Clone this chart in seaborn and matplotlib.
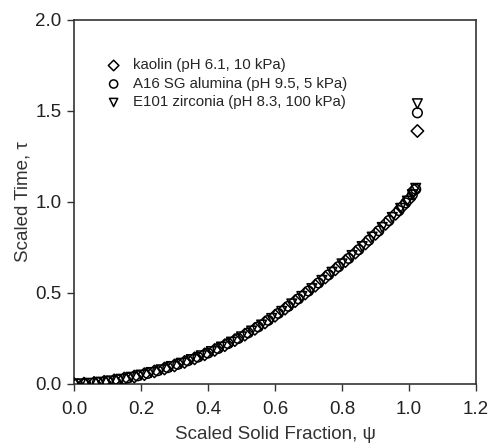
import numpy as np
import pandas as pd
import matplotlib
matplotlib.use("Agg")
import matplotlib.pyplot as plt
import seaborn as sns

sns.set_theme(style="ticks")
plt.rcParams['font.family'] = ['Liberation Sans', 'DejaVu Sans']

labels = ["kaolin (pH 6.1, 10 kPa)",
          "A16 SG alumina (pH 9.5, 5 kPa)",
          "E101 zirconia (pH 8.3, 100 kPa)"]

kaolin_psi = [0.00, 0.03, 0.06, 0.09, 0.12, 0.15, 0.18, 0.21, 0.24, 0.27, 0.30, 0.33,
              0.36, 0.39, 0.42, 0.45, 0.48, 0.51, 0.54, 0.57, 0.60, 0.63, 0.66, 0.69,
              0.72, 0.75, 0.78, 0.81, 0.84, 0.87, 0.90, 0.93, 0.96, 0.98, 1.00, 1.015, 1.025]
kaolin_tau = [0.000, 0.002, 0.006, 0.012, 0.020, 0.030, 0.041, 0.054, 0.069, 0.085, 0.102, 0.121,
              0.141, 0.163, 0.187, 0.213, 0.241, 0.271, 0.303, 0.338, 0.375, 0.414, 0.455, 0.497,
              0.540, 0.585, 0.630, 0.675, 0.722, 0.772, 0.825, 0.880, 0.935, 0.975, 1.015, 1.065, 1.39]

alumina_psi = [0.01, 0.035, 0.07, 0.10, 0.13, 0.16, 0.19, 0.22, 0.25, 0.28, 0.31, 0.34,
               0.37, 0.40, 0.43, 0.46, 0.49, 0.52, 0.55, 0.58, 0.61, 0.64, 0.67, 0.70,
               0.73, 0.76, 0.79, 0.82, 0.85, 0.88, 0.91, 0.94, 0.97, 0.99, 1.01, 1.02, 1.025]
alumina_tau = [0.000, 0.003, 0.008, 0.014, 0.023, 0.033, 0.045, 0.058, 0.073, 0.090, 0.108, 0.128,
               0.148, 0.170, 0.195, 0.222, 0.250, 0.281, 0.314, 0.350, 0.388, 0.427, 0.468, 0.511,
               0.555, 0.600, 0.645, 0.690, 0.738, 0.790, 0.842, 0.898, 0.953, 0.995, 1.040, 1.070, 1.49]

zirconia_psi = [0.02, 0.05, 0.08, 0.11, 0.14, 0.17, 0.20, 0.23, 0.26, 0.29, 0.32, 0.35,
                0.38, 0.41, 0.44, 0.47, 0.50, 0.53, 0.56, 0.59, 0.62, 0.65, 0.68, 0.71,
                0.74, 0.77, 0.80, 0.83, 0.86, 0.89, 0.92, 0.95, 0.975, 0.995, 1.01, 1.02, 1.025]
zirconia_tau = [0.001, 0.004, 0.010, 0.017, 0.026, 0.037, 0.049, 0.063, 0.078, 0.096, 0.114, 0.134,
                0.155, 0.178, 0.203, 0.230, 0.259, 0.291, 0.324, 0.360, 0.399, 0.440, 0.481, 0.524,
                0.569, 0.614, 0.660, 0.706, 0.755, 0.807, 0.860, 0.915, 0.965, 1.005, 1.040, 1.075, 1.54]

series = [(kaolin_psi, kaolin_tau, "D", 40),
          (alumina_psi, alumina_tau, "o", 48),
          (zirconia_psi, zirconia_tau, "v", 48)]

fig = plt.figure(figsize=(4.91, 4.43), dpi=100)
ax = fig.add_axes([0.1507, 0.1332, 0.8188, 0.8217])

for (psi, tau, m, s), lab in zip(series, labels):
    df = pd.DataFrame({"psi": psi, "tau": tau})
    sns.scatterplot(data=df, x="psi", y="tau", marker=m, s=s, facecolor="none",
                    edgecolor="black", linewidth=1.1, ax=ax, label=lab, zorder=3)

ax.set_xlim(0, 1.2)
ax.set_ylim(0, 2.0)
ax.set_xticks(np.arange(0, 1.21, 0.2))
ax.set_yticks(np.arange(0, 2.01, 0.5))
ax.xaxis.set_major_formatter(matplotlib.ticker.FormatStrFormatter('%.1f'))
ax.yaxis.set_major_formatter(matplotlib.ticker.FormatStrFormatter('%.1f'))
ax.tick_params(axis='both', labelsize=13.5, direction='out', length=5, width=1, color='#333333')
ax.tick_params(axis='x', pad=7)
ax.tick_params(axis='y', pad=4)
ax.tick_params(top=False, right=False)
for sp in ax.spines.values():
    sp.set_color('#333333')
    sp.set_linewidth(1.2)
ax.set_xlabel("Scaled Solid Fraction, \u03c8", fontsize=13.5, color='#333333', labelpad=6)
ax.set_ylabel("Scaled Time, \u03c4", fontsize=13.5, color='#333333', labelpad=3)
for t in ax.get_xticklabels() + ax.get_yticklabels():
    t.set_color('#222222')

ax.legend(loc='upper left', bbox_to_anchor=(0.065, 0.915), frameon=False, fontsize=10.8,
          handletextpad=0.9, labelspacing=0.3, borderpad=0, handlelength=0.8, markerscale=0.85)

fig.savefig("out.png", dpi=100)
